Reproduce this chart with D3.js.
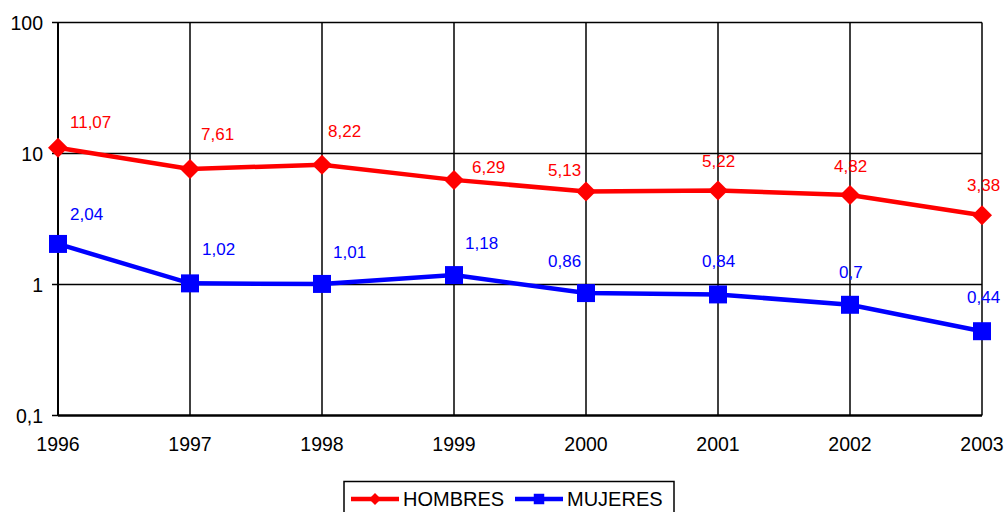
<!DOCTYPE html>
<html>
<head>
<meta charset="utf-8">
<script src="https://cdn.jsdelivr.net/npm/d3@7"></script>
<style>
  body { margin: 0; background: #fff; }
  text { font-family: "Liberation Sans", Arial, sans-serif; }
</style>
</head>
<body>
<div id="root"></div>
<script>
var years = [1996, 1997, 1998, 1999, 2000, 2001, 2002, 2003];
var hombres = [11.07, 7.61, 8.22, 6.29, 5.13, 5.22, 4.82, 3.38];
var mujeres = [2.04, 1.02, 1.01, 1.18, 0.86, 0.84, 0.7, 0.44];
var yTicks = [0.1, 1, 10, 100];
var yTickLabels = ['0,1', '1', '10', '100'];

// label nudges (dx, dy from the point), Excel labels were moved by hand
var hLabelOff = [[12, -20], [11, -29], [6, -28], [18, -7], [-38, -15], [-16, -23], [-16, -23], [-15, -24]];
var mLabelOff = [[12, -24], [12, -28], [11, -26], [11, -26], [-38, -26], [-16, -27], [-11, -27], [-15, -28]];

var w = 1008, h = 512;
var pLeft = 58, pRight = 982, pTop = 22.5, pBottom = 415.5;

var svg = d3.select('#root').append('svg').attr('width', w).attr('height', h);

var x = d3.scalePoint().domain(years).range([pLeft, pRight]);
var y = d3.scaleLog().domain([0.1, 100]).range([pBottom, pTop]);

var fmt = function (v) { return String(v).replace('.', ','); };

// grid
svg.append('g').selectAll('line')
    .data(yTicks.filter(function (d) { return d > 0.1; }))
    .enter().append('line')
    .attr('x1', pLeft).attr('x2', pRight)
    .attr('y1', function (d) { return y(d); }).attr('y2', function (d) { return y(d); })
    .attr('stroke', '#000').attr('stroke-width', 1.5);
svg.append('g').selectAll('line')
    .data(years.slice(1))
    .enter().append('line')
    .attr('x1', function (d) { return x(d); }).attr('x2', function (d) { return x(d); })
    .attr('y1', pTop).attr('y2', pBottom)
    .attr('stroke', '#000').attr('stroke-width', 1.5);

// axes
var yAxis = svg.append('g');
yAxis.append('line').attr('x1', pLeft).attr('x2', pLeft).attr('y1', pTop).attr('y2', pBottom)
    .attr('stroke', '#000').attr('stroke-width', 2);
yAxis.selectAll('line.tick').data(yTicks).enter().append('line').attr('class', 'tick')
    .attr('x1', pLeft - 6).attr('x2', pLeft)
    .attr('y1', function (d) { return y(d); }).attr('y2', function (d) { return y(d); })
    .attr('stroke', '#000').attr('stroke-width', 1.5);
yAxis.selectAll('text').data(yTicks).enter().append('text')
    .attr('x', pLeft - 15).attr('y', function (d) { return y(d) + 7; })
    .attr('text-anchor', 'end').attr('font-size', 19.5)
    .text(function (d, i) { return yTickLabels[i]; });

var xAxis = svg.append('g');
xAxis.append('line').attr('x1', pLeft).attr('x2', pRight).attr('y1', pBottom).attr('y2', pBottom)
    .attr('stroke', '#000').attr('stroke-width', 2.5);
xAxis.selectAll('text').data(years).enter().append('text')
    .attr('x', function (d) { return x(d); }).attr('y', pBottom + 35)
    .attr('text-anchor', 'middle').attr('font-size', 19.5)
    .text(function (d) { return d; });

var line = d3.line()
    .x(function (d, i) { return x(years[i]); })
    .y(function (d) { return y(d); });

function drawSeries(data, color, diamond, size, offs) {
    var g = svg.append('g');
    g.append('path').datum(data).attr('d', line)
        .attr('fill', 'none').attr('stroke', color).attr('stroke-width', 4.5);
    g.selectAll('path.mark').data(data).enter().append('path').attr('class', 'mark')
        .attr('d', d3.symbol().type(d3.symbolSquare).size(size))
        .attr('transform', function (d, i) {
            return 'translate(' + x(years[i]) + ',' + y(d) + ')' + (diamond ? ' rotate(45)' : '');
        })
        .attr('fill', color);
    g.selectAll('text').data(data).enter().append('text')
        .attr('x', function (d, i) { return x(years[i]) + offs[i][0]; })
        .attr('y', function (d, i) { return y(d) + offs[i][1]; })
        .attr('font-size', 17).attr('fill', color)
        .text(fmt);
}

drawSeries(hombres, '#ff0000', true, 200, hLabelOff);
drawSeries(mujeres, '#0000ff', false, 324, mLabelOff);

// legend
var lg = svg.append('g');
lg.append('rect').attr('x', 344).attr('y', 481.5).attr('width', 330).attr('height', 40)
    .attr('fill', '#fff').attr('stroke', '#000').attr('stroke-width', 1.5);
var items = [
    { name: 'HOMBRES', color: '#ff0000', diamond: true, x0: 351 },
    { name: 'MUJERES', color: '#0000ff', diamond: false, x0: 515 }
];
items.forEach(function (it) {
    lg.append('line').attr('x1', it.x0).attr('x2', it.x0 + 48).attr('y1', 499).attr('y2', 499)
        .attr('stroke', it.color).attr('stroke-width', 4.5);
    lg.append('path')
        .attr('d', d3.symbol().type(d3.symbolSquare).size(it.diamond ? 72 : 110))
        .attr('transform', 'translate(' + (it.x0 + 24) + ',499)' + (it.diamond ? ' rotate(45)' : ''))
        .attr('fill', it.color);
    lg.append('text').attr('x', it.x0 + 52).attr('y', 506).attr('font-size', 20).text(it.name);
});
</script>
</body>
</html>
